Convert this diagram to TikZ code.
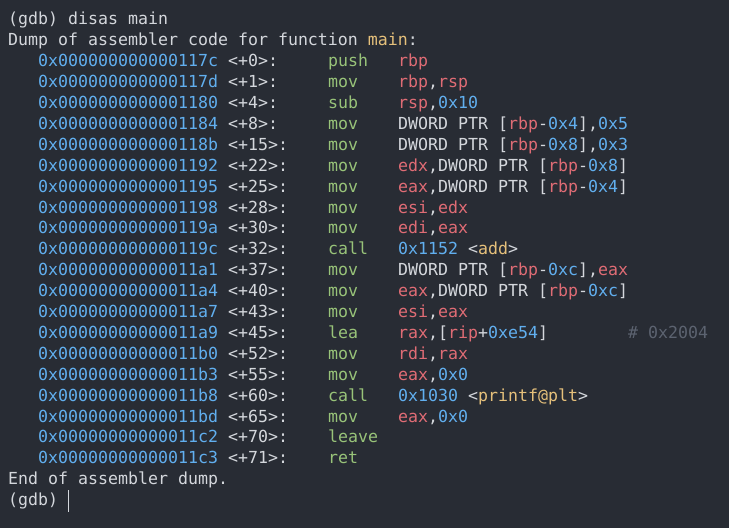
\documentclass[tikz,border=0pt]{standalone}
\usepackage{fontspec}
\setmonofont{DejaVu Sans Mono}
\definecolor{bg}{HTML}{282C34}
\definecolor{fg}{HTML}{D4D7DC}
\definecolor{rd}{HTML}{E06C75}
\definecolor{bl}{HTML}{61AFEF}
\definecolor{gr}{HTML}{98C379}
\definecolor{ye}{HTML}{E5C07B}
\definecolor{cm}{HTML}{5C6370}
\newcommand\cR[1]{\textcolor{rd}{#1}}
\newcommand\cB[1]{\textcolor{bl}{#1}}
\newcommand\cY[1]{\textcolor{ye}{#1}}
\newcommand\rowy[1]{503-20.9*#1}
\begin{document}
\begin{tikzpicture}[x=1pt,y=1pt,
  t/.style={anchor=base west,inner sep=0pt,font=\ttfamily\fontsize{16.6}{20}\selectfont,text=fg},
  ad/.style={t,text=bl},
  mn/.style={t,text=gr}]
\fill[bg] (0,0) rectangle (729,528);
\useasboundingbox (0,0) rectangle (729,528);
\node[t] (l0) at (8,{\rowy{0}}) {(gdb) disas main};
\node[t] (l1) at (8,{\rowy{1}}) {Dump of assembler code for function \cY{main}:};
\foreach \i/\a/\o/\m in {2/117c/0/push,3/117d/1/mov,4/1180/4/sub,5/1184/8/mov,6/118b/15/mov,7/1192/22/mov,8/1195/25/mov,9/1198/28/mov,10/119a/30/mov,11/119c/32/call,12/11a1/37/mov,13/11a4/40/mov,14/11a7/43/mov,15/11a9/45/lea,16/11b0/52/mov,17/11b3/55/mov,18/11b8/60/call,19/11bd/65/mov,20/11c2/70/leave,21/11c3/71/ret}{
  \node[ad] (a\i) at (38,{\rowy{\i}}) {0x000000000000\a};
  \node[t] (o\i) at (228,{\rowy{\i}}) {<+\o>:};
  \node[mn] (m\i) at (328,{\rowy{\i}}) {\m};
}
\def\op#1#2{\node[t] (p#1) at (398,{\rowy{#1}}) {#2};}
\op{2}{\cR{rbp}}
\op{3}{\cR{rbp},\cR{rsp}}
\op{4}{\cR{rsp},\cB{0x10}}
\op{5}{DWORD PTR [\cR{rbp}-\cB{0x4}],\cB{0x5}}
\op{6}{DWORD PTR [\cR{rbp}-\cB{0x8}],\cB{0x3}}
\op{7}{\cR{edx},DWORD PTR [\cR{rbp}-\cB{0x8}]}
\op{8}{\cR{eax},DWORD PTR [\cR{rbp}-\cB{0x4}]}
\op{9}{\cR{esi},\cR{edx}}
\op{10}{\cR{edi},\cR{eax}}
\op{11}{\cB{0x1152} <\cY{add}>}
\op{12}{DWORD PTR [\cR{rbp}-\cB{0xc}],\cR{eax}}
\op{13}{\cR{eax},DWORD PTR [\cR{rbp}-\cB{0xc}]}
\op{14}{\cR{esi},\cR{eax}}
\op{15}{\cR{rax},[\cR{rip}+\cB{0xe54}]}
\op{16}{\cR{rdi},\cR{rax}}
\op{17}{\cR{eax},\cB{0x0}}
\op{18}{\cB{0x1030} <\cY{printf@plt}>}
\op{19}{\cR{eax},\cB{0x0}}
\node[t,text=cm] (c15) at (628,{\rowy{15}}) {\# 0x2004};
\node[t] (l22) at (8,{\rowy{22}}) {End of assembler dump.};
\node[t] (l23) at (8,{\rowy{23}}) {(gdb)};
\coordinate (cur) at (68.5,{\rowy{23}-6});
\draw[fg,line width=1.2pt] (cur) -- ++(0,22);
\end{tikzpicture}
\end{document}
